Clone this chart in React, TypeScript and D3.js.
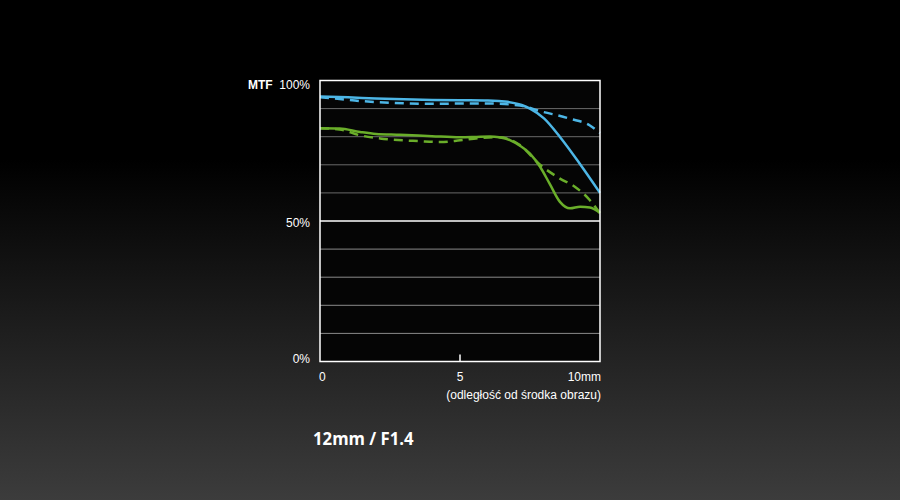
import React, { useRef, useEffect } from 'react';
import * as d3 from 'd3';

// distance from image centre (mm)
const blueSolidX = [0, 1, 2, 3, 4, 5, 6, 6.7, 7.2, 7.5, 8, 8.57, 9.29, 10];
const blueSolid = [94.3, 94.0, 93.6, 93.3, 93.1, 93.0, 92.9, 92.4, 91.3, 90.0, 86.5, 79.9, 70.2, 60.0];

const blueDashX = [0, 0.7, 1.43, 2.5, 4, 5, 6, 7.14, 7.86, 8.93, 9.64, 10];
const blueDash = [94.0, 93.4, 92.7, 92.1, 91.7, 91.8, 91.8, 91.1, 89.1, 86.4, 84.0, 81.3];

const greenSolidX = [0, 0.7, 1.43, 2, 2.86, 4, 5, 5.5, 6.07, 6.4, 6.8, 7.14, 7.5, 7.86, 8.2, 8.57, 8.93, 9.29, 9.64, 10];
const greenSolid = [83.0, 82.9, 81.7, 81.0, 80.7, 80.2, 79.8, 79.9, 80.1, 79.8, 78.7, 76.8, 74.0, 69.3, 63.3, 56.8, 54.5, 55.1, 54.8, 52.9];

const greenDashX = [0, 0.7, 1.43, 2.14, 3.57, 4.3, 5, 5.7, 6.4, 7.14, 7.86, 8.57, 9.1, 9.64, 10];
const greenDash = [83.0, 82.6, 80.5, 79.4, 78.4, 78.1, 78.7, 79.5, 79.8, 77.0, 70.0, 65.1, 62.2, 57.4, 52.7];

const yTicks = [0, 50, 100];
const xTicks = [0, 5, 10];
const xTickLabels = ['0', '5', '10mm'];
const gridLines = [10, 20, 30, 40, 60, 70, 80, 90];

const BLUE = '#4db6e6';
const GREEN = '#6aae2a';

const App: React.FC = () => {
  const svgRef = useRef<SVGSVGElement | null>(null);

  useEffect(() => {
    const svg = d3.select(svgRef.current!);
    svg.selectAll('*').remove();

    const defs = svg.append('defs');
    const grad = defs.append('linearGradient')
      .attr('id', 'bg')
      .attr('x1', 0).attr('y1', 0).attr('x2', 0).attr('y2', 1);
    grad.append('stop').attr('offset', '0%').attr('stop-color', '#000');
    grad.append('stop').attr('offset', '32%').attr('stop-color', '#000');
    grad.append('stop').attr('offset', '100%').attr('stop-color', '#3c3c3c');

    svg.append('rect').attr('width', 900).attr('height', 500).attr('fill', 'url(#bg)');

    const x = d3.scaleLinear().domain([0, 10]).range([320, 600]);
    const y = d3.scaleLinear().domain([0, 100]).range([361.5, 80.5]);

    svg.append('rect')
      .attr('x', 320).attr('y', 80.5)
      .attr('width', 280).attr('height', 281)
      .attr('fill', '#050505');

    svg.append('g')
      .selectAll('line')
      .data(gridLines)
      .join('line')
      .attr('x1', x(0)).attr('x2', x(10))
      .attr('y1', (d) => y(d)).attr('y2', (d) => y(d))
      .attr('stroke', (d) => (d > 50 ? '#6a6a6a' : '#8a8a8a'))
      .attr('stroke-width', 1);

    svg.append('line')
      .attr('x1', x(0)).attr('x2', x(10))
      .attr('y1', y(50)).attr('y2', y(50))
      .attr('stroke', '#fff').attr('stroke-width', 1.5);

    const line = d3.line<[number, number]>()
      .x((d) => x(d[0]))
      .y((d) => y(d[1]))
      .curve(d3.curveMonotoneX);

    const series = [
      { xs: greenDashX, ys: greenDash, color: GREEN, dash: '9,6' },
      { xs: blueDashX, ys: blueDash, color: BLUE, dash: '9,6' },
      { xs: greenSolidX, ys: greenSolid, color: GREEN, dash: null },
      { xs: blueSolidX, ys: blueSolid, color: BLUE, dash: null },
    ];

    const clip = defs.append('clipPath').attr('id', 'plot');
    clip.append('rect').attr('x', 320).attr('y', 80).attr('width', 281).attr('height', 282);

    series.forEach((s) => {
      svg.append('path')
        .datum(s.xs.map((v, i) => [v, s.ys[i]] as [number, number]))
        .attr('clip-path', 'url(#plot)')
        .attr('fill', 'none')
        .attr('stroke', s.color)
        .attr('stroke-width', 2.5)
        .attr('stroke-dasharray', s.dash)
        .attr('d', line);
    });

    svg.append('rect')
      .attr('x', 320).attr('y', 80.5)
      .attr('width', 280).attr('height', 281)
      .attr('fill', 'none')
      .attr('stroke', '#fff').attr('stroke-width', 1.5);

    // centre tick
    svg.append('line')
      .attr('x1', x(5)).attr('x2', x(5))
      .attr('y1', y(0) - 7).attr('y2', y(0))
      .attr('stroke', '#fff').attr('stroke-width', 1.5);

    const font = 'Liberation Sans, Arial, sans-serif';
    // labels sit a little below their lines, more so near the top
    const labelShift: Record<number, number> = { 0: 1.5, 50: 5.5, 100: 8.5 };

    svg.append('g')
      .selectAll('text')
      .data(yTicks)
      .join('text')
      .attr('x', 310)
      .attr('y', (d) => y(d) + labelShift[d])
      .attr('text-anchor', 'end')
      .attr('fill', '#fff')
      .attr('font-family', font)
      .attr('font-size', 12)
      .text((d) => `${d}%`);

    svg.append('text')
      .attr('x', 248).attr('y', y(100) + 8.5)
      .attr('fill', '#fff')
      .attr('font-family', font)
      .attr('font-size', 12)
      .attr('font-weight', 'bold')
      .text('MTF');

    svg.append('g')
      .selectAll('text')
      .data(xTicks)
      .join('text')
      .attr('x', (d) => (d === 0 ? x(d) - 1 : d === 10 ? x(d) + 1 : x(d)))
      .attr('y', 381)
      .attr('text-anchor', (d) => (d === 0 ? 'start' : d === 10 ? 'end' : 'middle'))
      .attr('fill', '#fff')
      .attr('font-family', font)
      .attr('font-size', 12)
      .text((d, i) => xTickLabels[i]);

    svg.append('text')
      .attr('x', 601).attr('y', 399)
      .attr('text-anchor', 'end')
      .attr('fill', '#fff')
      .attr('font-family', font)
      .attr('font-size', 12)
      .text('(odległość od środka obrazu)');

    svg.append('text')
      .attr('x', 313).attr('y', 445)
      .attr('fill', '#fff')
      .attr('font-family', 'Open Sans, Noto Sans, sans-serif')
      .attr('font-size', 18)
      .attr('font-weight', 'bold')
      .attr('transform', 'translate(313,0) scale(0.93,1) translate(-313,0)')
      .text('12mm / F1.4');
  }, []);

  return (
    <svg
      ref={svgRef}
      width={900}
      height={500}
      style={{ position: 'absolute', left: 0, top: 0, display: 'block' }}
    />
  );
};

export default App;
